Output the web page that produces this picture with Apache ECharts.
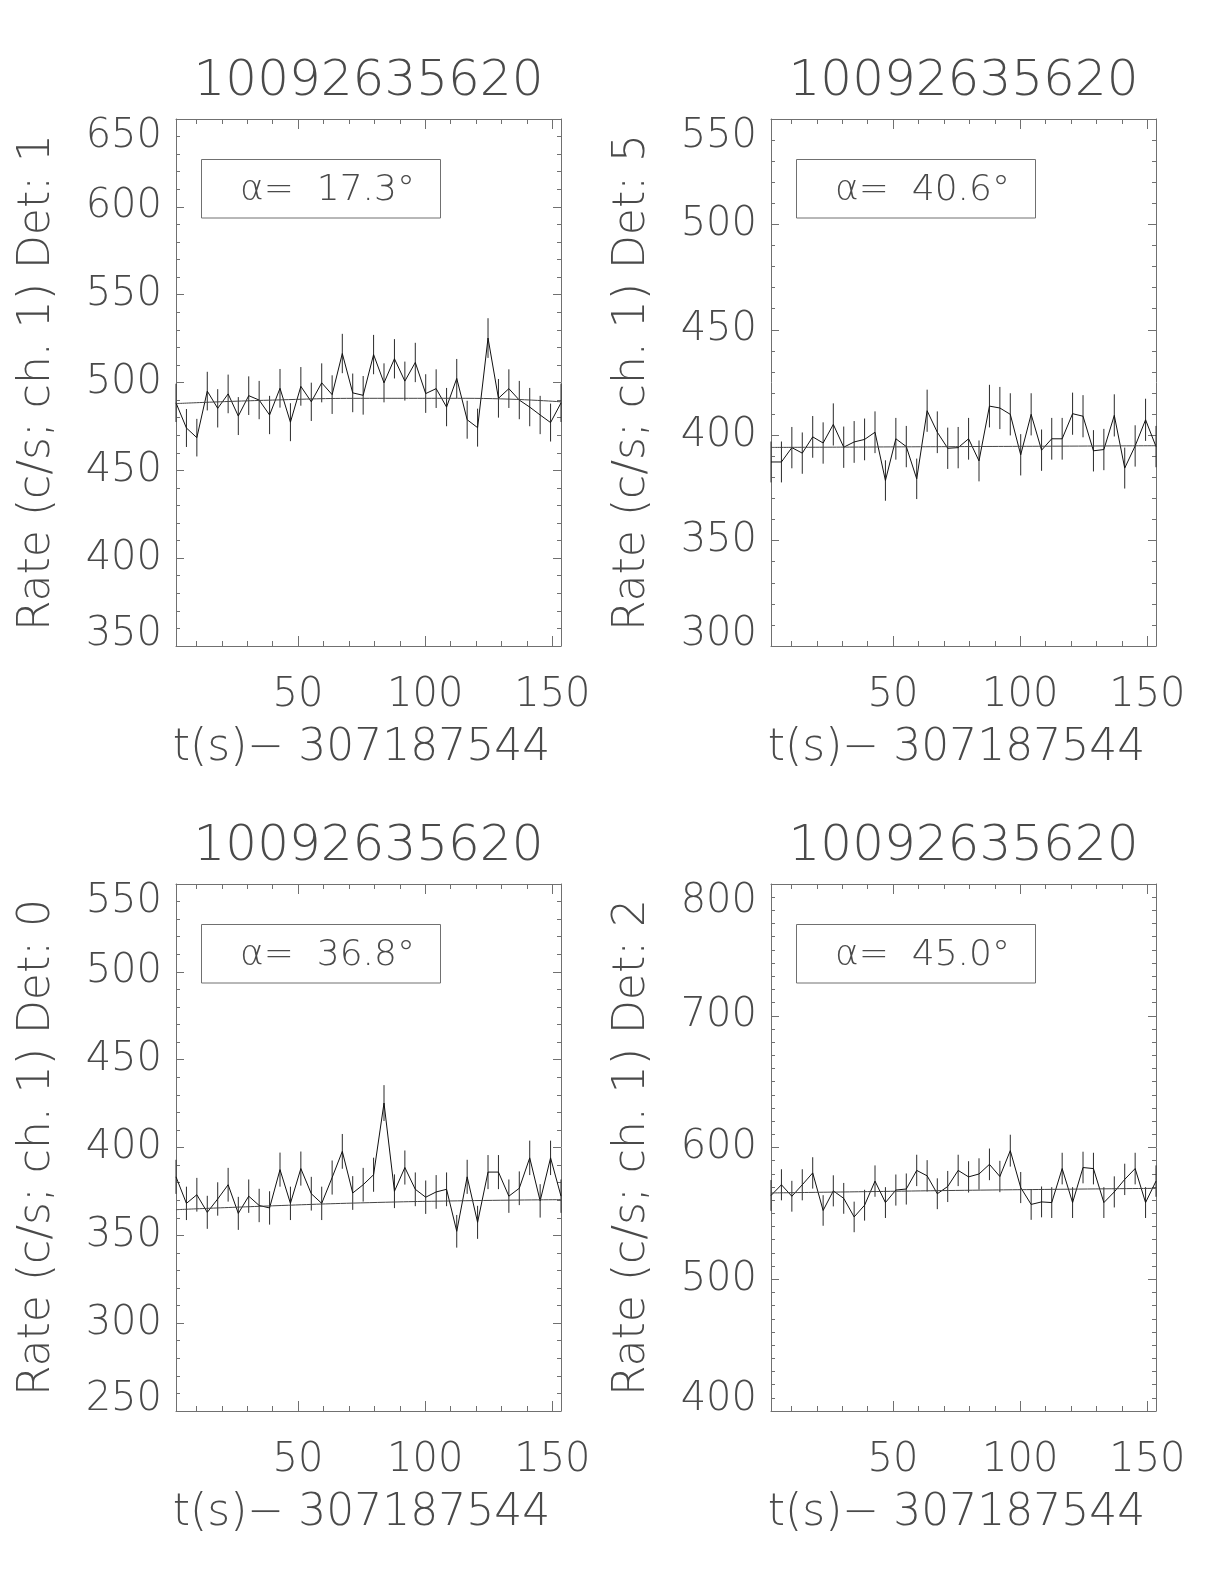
<!DOCTYPE html>
<html><head><meta charset="utf-8">
<script src="https://cdn.jsdelivr.net/npm/echarts@6/dist/echarts.min.js"></script>
<style>html,body{margin:0;padding:0;background:#fff}#c{width:1224px;height:1584px}</style>
</head><body><div id="c"></div><script>
// ---- data ----
const t = [2.0, 6.1, 10.2, 14.3, 18.4, 22.5, 26.5, 30.6, 34.7, 38.8, 42.9, 47.0, 51.1, 55.2, 59.3, 63.4, 67.4, 71.5, 75.6, 79.7, 83.8, 87.9, 92.0, 96.1, 100.2, 104.3, 108.4, 112.4, 116.5, 120.6, 124.7, 128.8, 132.9, 137.0, 141.1, 145.2, 149.3, 153.4];
const fitT = [2.0, 40.0, 78.0, 116.0, 153.4];
const T_MIN = 2.0, T_MAX = 153.4;
const xMajorTicks = [50, 100, 150];
const xMinorTicks = [10, 20, 30, 40, 60, 70, 80, 90, 110, 120, 130, 140];

const det1Rate = [488.4, 474.1, 468.6, 495.1, 485.3, 493.5, 480.9, 492.5, 490.0, 481.5, 496.7, 477.4, 497.8, 489.0, 499.8, 493.1, 516.5, 494.1, 492.7, 515.9, 499.8, 513.5, 500.8, 511.4, 493.7, 496.5, 486.0, 502.3, 478.8, 474.3, 525.3, 491.0, 496.5, 490.0, 486.0, 481.5, 477.2, 488.4];
const det1Err = [10.9, 10.8, 10.7, 11.0, 10.9, 11.0, 10.8, 11.0, 10.9, 10.9, 11.0, 10.8, 11.0, 10.9, 11.1, 11.0, 11.2, 11.0, 11.0, 11.2, 11.1, 11.2, 11.1, 11.2, 11.0, 11.0, 10.9, 11.1, 10.8, 10.8, 11.3, 11.0, 11.0, 10.9, 10.9, 10.9, 10.8, 10.9];
const det1Fit = [488.0, 490.0, 491.0, 491.0, 489.0];

const det5Rate = [387.3, 387.3, 394.1, 391.5, 399.2, 396.3, 405.1, 394.3, 396.8, 398.0, 401.4, 378.5, 398.3, 394.6, 379.3, 411.6, 401.4, 393.8, 394.1, 398.3, 387.8, 413.8, 412.9, 409.9, 390.7, 409.9, 392.9, 398.3, 398.3, 410.2, 409.0, 392.6, 393.2, 409.4, 384.4, 394.9, 407.3, 394.6];
const det5Err = [9.7, 9.7, 9.8, 9.8, 9.9, 9.8, 10.0, 9.8, 9.9, 9.9, 9.9, 9.6, 9.9, 9.8, 9.6, 10.0, 9.9, 9.8, 9.8, 9.9, 9.7, 10.1, 10.0, 10.0, 9.8, 10.0, 9.8, 9.9, 9.9, 10.0, 10.0, 9.8, 9.8, 10.0, 9.7, 9.8, 10.0, 9.8];
const det5Fit = [394.2, 394.4, 394.6, 394.8, 395.0];

const det0Rate = [383.3, 368.2, 373.1, 363.1, 370.7, 378.8, 362.5, 372.3, 367.0, 365.6, 387.4, 368.2, 388.0, 373.7, 368.2, 382.9, 397.8, 374.1, 378.8, 384.5, 425.3, 375.1, 388.6, 376.2, 371.7, 374.7, 376.2, 352.3, 383.3, 357.4, 386.0, 386.0, 372.3, 376.8, 394.1, 369.6, 394.1, 372.3];
const det0Err = [9.7, 9.5, 9.6, 9.4, 9.5, 9.6, 9.4, 9.5, 9.5, 9.5, 9.7, 9.5, 9.7, 9.6, 9.5, 9.7, 9.9, 9.6, 9.6, 9.7, 10.2, 9.6, 9.7, 9.6, 9.5, 9.6, 9.6, 9.3, 9.7, 9.4, 9.7, 9.7, 9.5, 9.6, 9.8, 9.5, 9.8, 9.5];
const det0Fit = [364.6, 366.8, 368.6, 369.7, 370.3];

const det2Rate = [563.6, 571.7, 563.0, 571.7, 580.7, 552.2, 567.1, 561.4, 547.3, 556.2, 574.5, 558.2, 567.7, 568.5, 582.6, 578.5, 564.9, 570.4, 582.6, 577.7, 579.9, 587.2, 578.0, 597.6, 569.6, 556.8, 558.7, 558.2, 584.0, 558.2, 584.8, 584.0, 558.2, 566.3, 575.8, 584.0, 558.2, 574.5];
const det2Err = [11.7, 11.8, 11.7, 11.8, 11.9, 11.6, 11.8, 11.7, 11.6, 11.7, 11.9, 11.7, 11.8, 11.8, 11.9, 11.9, 11.7, 11.8, 11.9, 11.9, 11.9, 12.0, 11.9, 12.1, 11.8, 11.7, 11.7, 11.7, 12.0, 11.7, 12.0, 12.0, 11.7, 11.8, 11.9, 12.0, 11.7, 11.9];
const det2Fit = [565.5, 566.5, 567.5, 568.3, 569.0];

const panelTitles = ['10092635620', '10092635620', '10092635620', '10092635620'];
const yTitles = ['Rate (c/s; ch. 1) Det: 1', 'Rate (c/s; ch. 1) Det: 5', 'Rate (c/s; ch. 1) Det: 0', 'Rate (c/s; ch. 1) Det: 2'];
const alphaTexts = ['17.3°', '40.6°', '36.8°', '45.0°'];
const xTitle = 't(s)\u2212 307187544';

// ---- layout / style ----
const FONT = "'DejaVu Sans ExtraLight', 'DejaVu Sans', sans-serif";
const FW = 200;
const TXT = '#4a4a4a';
const AX = '#707070';
const W = 385, H = 527;
const grids = [{left: 176, top: 119}, {left: 771, top: 119}, {left: 176, top: 884}, {left: 771, top: 884}];
const panels = [
  {rate: det1Rate, err: det1Err, fit: det1Fit, ymin: 350, ymax: 650, yint: 50, ysplit: 5},
  {rate: det5Rate, err: det5Err, fit: det5Fit, ymin: 300, ymax: 550, yint: 50, ysplit: 5},
  {rate: det0Rate, err: det0Err, fit: det0Fit, ymin: 250, ymax: 550, yint: 50, ysplit: 5},
  {rate: det2Rate, err: det2Err, fit: det2Fit, ymin: 400, ymax: 800, yint: 100, ysplit: 10}
];

const option = {animation: false, backgroundColor: '#fff', grid: [], xAxis: [], yAxis: [], series: [], graphic: []};

panels.forEach((p, g) => {
  const G = grids[g];
  option.grid.push({left: G.left, top: G.top, width: W, height: H});
  const xBase = {gridIndex: g, type: 'value', min: T_MIN, max: T_MAX, splitLine: {show: false},
    axisLine: {show: true, onZero: false, lineStyle: {color: AX, width: 1}}};
  option.xAxis.push(Object.assign({}, xBase, {position: 'bottom',
    axisTick: {show: true, inside: true, length: 10, customValues: xMajorTicks, lineStyle: {color: AX}},
    axisLabel: {show: true, customValues: xMajorTicks, fontFamily: FONT, fontWeight: FW, fontSize: 40, color: TXT, margin: 30},
    name: xTitle, nameLocation: 'middle', nameGap: 81,
    nameTextStyle: {fontFamily: FONT, fontWeight: FW, fontSize: 44, color: TXT, padding: [0, 14, 0, 0]}}));
  option.xAxis.push(Object.assign({}, xBase, {position: 'bottom', axisLine: {show: false, onZero: false},
    axisTick: {show: true, inside: true, length: 5, customValues: xMinorTicks, lineStyle: {color: AX}},
    axisLabel: {show: false}}));
  option.xAxis.push(Object.assign({}, xBase, {position: 'top',
    axisTick: {show: true, inside: true, length: 10, customValues: xMajorTicks, lineStyle: {color: AX}},
    axisLabel: {show: false}}));
  option.xAxis.push(Object.assign({}, xBase, {position: 'top', axisLine: {show: false, onZero: false},
    axisTick: {show: true, inside: true, length: 5, customValues: xMinorTicks, lineStyle: {color: AX}},
    axisLabel: {show: false}}));
  const yBase = {gridIndex: g, type: 'value', min: p.ymin, max: p.ymax, interval: p.yint,
    splitLine: {show: false}, minorSplitLine: {show: false},
    axisLine: {show: true, onZero: false, lineStyle: {color: AX, width: 1}},
    axisTick: {show: true, inside: true, length: 8, lineStyle: {color: AX}},
    minorTick: {show: true, splitNumber: p.ysplit, length: 4, lineStyle: {color: AX}}};
  option.yAxis.push(Object.assign({}, yBase, {position: 'left',
    axisLabel: {show: true, fontFamily: FONT, fontWeight: FW, fontSize: 40, color: TXT, margin: 14,
      lineHeight: 23, padding: [6, 0, 0, 0],
      verticalAlignMinLabel: 'bottom', verticalAlignMaxLabel: 'top'},
    name: yTitles[g], nameLocation: 'middle', nameGap: 116,
    nameTextStyle: {fontFamily: FONT, fontWeight: FW, fontSize: 44, color: TXT}}));
  option.yAxis.push(Object.assign({}, yBase, {position: 'right', axisLabel: {show: false}}));

  const xi = 4 * g, yi = 2 * g;
  option.series.push({type: 'custom', xAxisIndex: xi, yAxisIndex: yi, z: 2,
    data: t.map((x, i) => [x, p.rate[i] - p.err[i], p.rate[i] + p.err[i]]),
    encode: {x: 0, y: [1, 2]},
    renderItem: (params, api) => {
      const a = api.coord([api.value(0), api.value(1)]);
      const b = api.coord([api.value(0), api.value(2)]);
      return {type: 'line', shape: {x1: a[0], y1: a[1], x2: b[0], y2: b[1]},
        style: {stroke: '#2a2a2a', lineWidth: 1}};
    }});
  option.series.push({type: 'line', xAxisIndex: xi, yAxisIndex: yi, z: 3,
    data: t.map((x, i) => [x, p.rate[i]]), symbol: 'none',
    lineStyle: {color: '#111', width: 1}});
  option.series.push({type: 'line', xAxisIndex: xi, yAxisIndex: yi, z: 3, smooth: true,
    data: fitT.map((x, i) => [x, p.fit[i]]), symbol: 'none',
    lineStyle: {color: '#444', width: 1}});

  option.graphic.push({type: 'text', x: G.left + W / 2, y: G.top - 37,
    style: {text: panelTitles[g], fontFamily: FONT, fontWeight: FW, fontSize: 50, fill: TXT, align: 'center', verticalAlign: 'middle'}});
  option.graphic.push({type: 'rect', shape: {x: G.left + 25.5, y: G.top + 40.5, width: 239, height: 58.5},
    style: {fill: 'none', stroke: AX, lineWidth: 1}});
  option.graphic.push({type: 'text', x: G.left + 64, y: G.top + 72,
    style: {text: '\u03b1=  ' + alphaTexts[g], fontFamily: FONT, fontWeight: FW, fontSize: 36, fill: TXT,
      align: 'left', verticalAlign: 'middle'}});
});

const chart = echarts.init(document.getElementById('c'), null, {renderer: 'canvas'});
chart.setOption(option);
</script></body></html>
